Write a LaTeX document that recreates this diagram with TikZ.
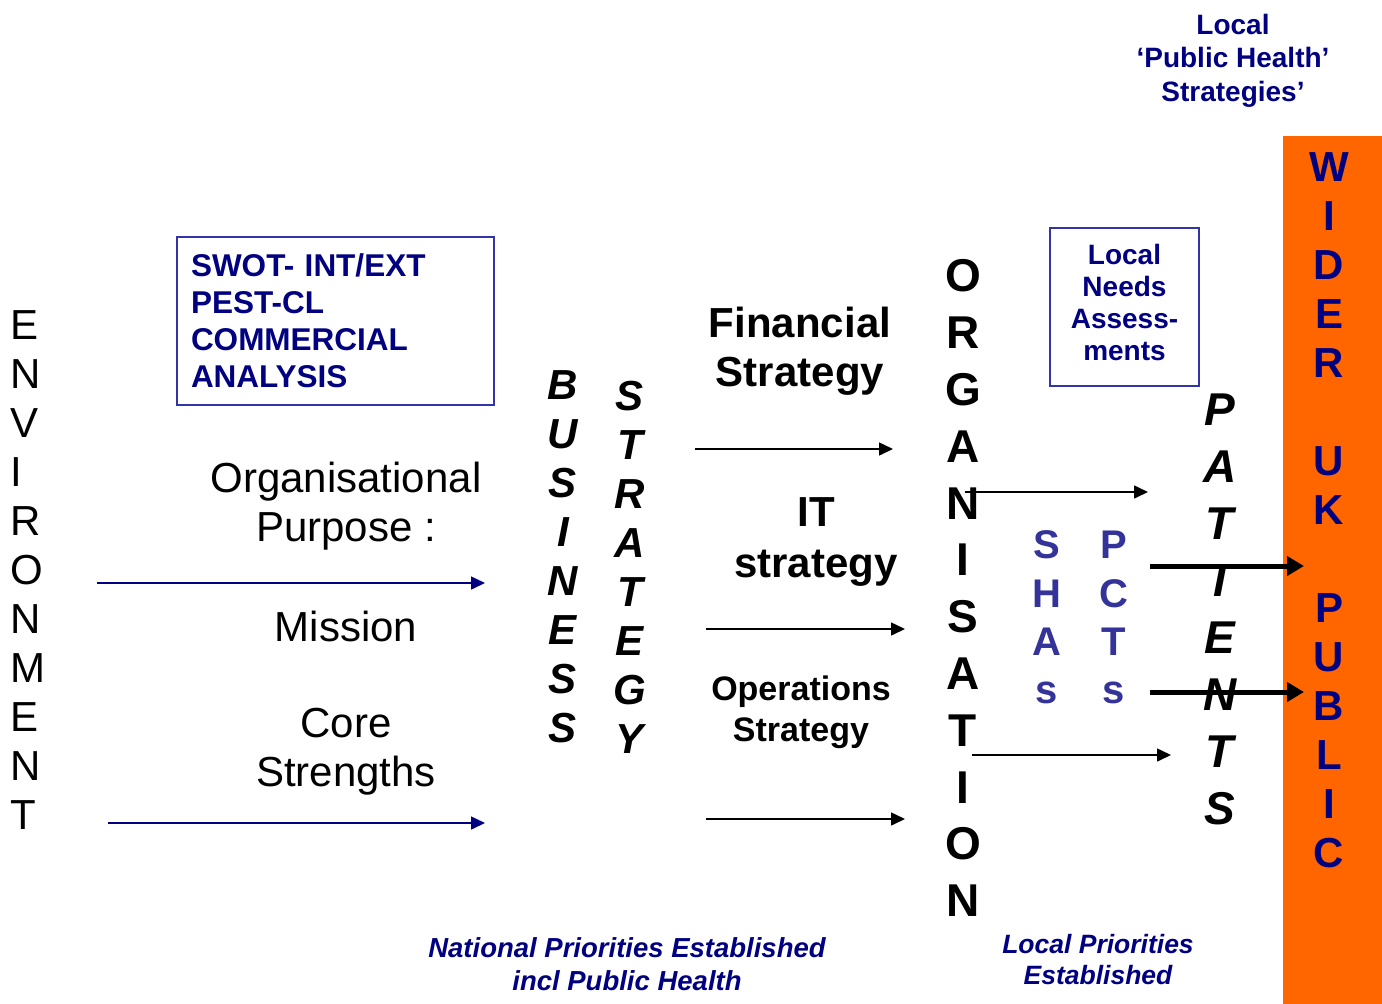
\documentclass[tikz,border=0pt]{standalone}
\usepackage{fontspec}
\setmainfont{Liberation Sans}
\usetikzlibrary{arrows.meta}
\definecolor{navytxt}{RGB}{0,0,128}
\definecolor{boxblue}{RGB}{51,51,170}
\definecolor{shablue}{RGB}{51,51,153}
\definecolor{bandorange}{RGB}{255,102,0}
\begin{document}
\begin{tikzpicture}[x=1pt,y=-1pt,
  every node/.style={inner sep=0pt},
  envl/.style={font=\fontsize{42}{49}\selectfont, anchor=west},
  bizl/.style={font=\bfseries\itshape\fontsize{42}{49}\selectfont},
  orgl/.style={font=\bfseries\fontsize{46}{57}\selectfont},
  patl/.style={font=\bfseries\itshape\fontsize{46}{57}\selectfont},
  shal/.style={font=\bfseries\fontsize{40}{49}\selectfont, text=shablue},
  widl/.style={font=\bfseries\fontsize{42}{49}\selectfont, text=navytxt},
  plaintxt/.style={align=center, font=\fontsize{42}{49}\selectfont},
  boldtxt/.style={align=center, font=\bfseries\fontsize{42}{49}\selectfont},
  navybold/.style={align=center, text=navytxt, font=\bfseries\fontsize{28}{33.5}\selectfont},
  navyital/.style={align=center, text=navytxt, font=\bfseries\itshape\fontsize{27.5}{32.5}\selectfont},
  thinarrow/.style={line width=1.5pt, -{Triangle[length=14pt,width=13pt]}},
  navyarrow/.style={thinarrow, draw=navytxt, fill=navytxt},
  thickarrow/.style={line width=5pt, -{Triangle[length=17pt,width=19pt]}},
]
\useasboundingbox (0,0) rectangle (1382,1004);

% orange band
\node[fill=bandorange, minimum width=99pt, minimum height=868pt, anchor=north west] (band) at (1283,136) {};

% ENVIRONMENT
\foreach \l [count=\i from 0] in {E,N,V,I,R,O,N,M,E,N,T}
  \node[envl] (env\i) at (10,325+49*\i) {\l};

% BUSINESS STRATEGY
\foreach \l [count=\i from 0] in {B,U,S,I,N,E,S,S}
  \node[bizl] (bus\i) at (563,385+49*\i) {\l};
\foreach \l [count=\i from 0] in {S,T,R,A,T,E,G,Y}
  \node[bizl] (str\i) at (630,396+49*\i) {\l};

% ORGANISATION
\foreach \l [count=\i from 0] in {O,R,G,A,N,I,S,A,T,I,O,N}
  \node[orgl] (org\i) at (963,276+56.8*\i) {\l};

% PATIENTS
\foreach \l [count=\i from 0] in {P,A,T,I,E,N,T,S}
  \node[patl] (pat\i) at (1220,410+56.9*\i) {\l};

% SHAs PCTs
\foreach \l/\y [count=\i from 0] in {S/545,H/594,A/642,s/693}
  \node[shal] (sha\i) at (1047,\y) {\l};
\foreach \l/\y [count=\i from 0] in {P/545,C/594,T/642,s/693}
  \node[shal] (pct\i) at (1114,\y) {\l};

% WIDER UK PUBLIC
\foreach \l/\i in {W/0,I/1,D/2,E/3,R/4,U/6,K/7,P/9,U/10,B/11,L/12,I/13,C/14}
  \node[widl] (wid\i) at (1329,167+49*\i) {\l};

% boxes
\node[draw=boxblue, line width=1.5pt, minimum width=317pt, minimum height=168pt,
      text width=289pt, inner xsep=14pt, align=left, text=navytxt,
      font=\bfseries\fontsize{31.5}{37}\selectfont] (swot) at (335.5,321)
      {SWOT- INT/EXT\\PEST-CL\\COMMERCIAL\\ANALYSIS};
\node[draw=boxblue, line width=1.5pt, minimum width=149pt, minimum height=158pt] (needs) at (1124.5,307) {};
\node[navybold, font=\bfseries\fontsize{28}{32}\selectfont] (needstxt) at (1124.5,302)
      {Local\\Needs\\Assess-\\ments};

% texts
\node[navybold] (phs) at (1233,60.5) {Local\\‘Public Health’\\Strategies’};
\node[plaintxt] (purpose) at (346,506.5) {Organisational\\Purpose :};
\node[plaintxt] (mission) at (346,626) {Mission};
\node[plaintxt] (core) at (346,752) {Core\\Strengths};
\node[boldtxt] (fin) at (800,351.5) {Financial\\Strategy};
\node[boldtxt, font=\bfseries\fontsize{42}{51}\selectfont] (it) at (816,542) {IT\\strategy};
\node[boldtxt, font=\bfseries\fontsize{34}{41}\selectfont] (ops) at (801,712) {Operations\\Strategy};
\node[navyital] (natl) at (627,964) {National Priorities Established\\incl Public Health};
\node[navyital, font=\bfseries\itshape\fontsize{26.5}{31}\selectfont] (localp) at (1098,959.5) {Local Priorities\\Established};

% arrow end points
\coordinate (n1s) at (97,583);   \coordinate (n1e) at (485,583);
\coordinate (n2s) at (108,823);  \coordinate (n2e) at (485,823);
\coordinate (b1s) at (695,449);  \coordinate (b1e) at (893,449);
\coordinate (b2s) at (706,629);  \coordinate (b2e) at (905,629);
\coordinate (b3s) at (706,819);  \coordinate (b3e) at (905,819);
\coordinate (b4s) at (965,492);  \coordinate (b4e) at (1148,492);
\coordinate (b5s) at (972,755);  \coordinate (b5e) at (1171,755);
\coordinate (t1s) at (1150,566); \coordinate (t1e) at (1304,566);
\coordinate (t2s) at (1150,692); \coordinate (t2e) at (1304,692);

\draw[navyarrow] (n1s) -- (n1e);
\draw[navyarrow] (n2s) -- (n2e);
\draw[thinarrow] (b1s) -- (b1e);
\draw[thinarrow] (b2s) -- (b2e);
\draw[thinarrow] (b3s) -- (b3e);
\draw[thinarrow] (b4s) -- (b4e);
\draw[thinarrow] (b5s) -- (b5e);
\draw[thickarrow] (t1s) -- (t1e);
\draw[thickarrow] (t2s) -- (t2e);
\end{tikzpicture}
\end{document}
